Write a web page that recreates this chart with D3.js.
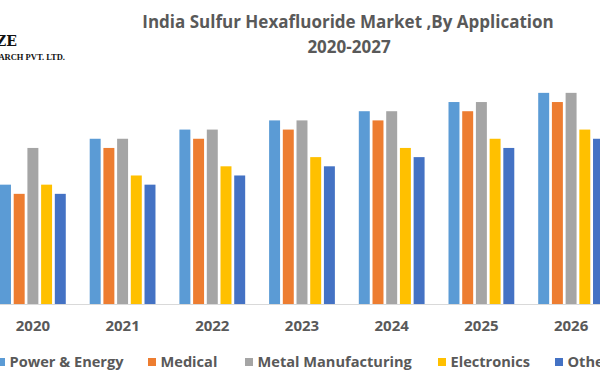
<!DOCTYPE html>
<html>
<head>
<meta charset="utf-8">
<script src="https://cdn.jsdelivr.net/npm/d3@7"></script>
<style>
  body { margin: 0; background: #fff; }
  svg { display: block; }
</style>
</head>
<body>
<div id="container"></div>
<script>
// chart data
const years = ["2020", "2021", "2022", "2023", "2024", "2025", "2026", "2027"];
const seriesNames = ["Power & Energy", "Medical", "Metal Manufacturing", "Electronics", "Others"];
const powerEnergy = [13, 18, 19, 20, 21, 22, 23, 24];
const medical = [12, 17, 18, 19, 20, 21, 22, 23];
const metalManufacturing = [17, 18, 19, 20, 21, 22, 23, 24];
const electronics = [13, 14, 15, 16, 17, 18, 19, 20];
const others = [12, 13, 14, 15, 16, 17, 18, 19];
const colors = ["#5B9BD5", "#ED7D31", "#A5A5A5", "#FFC000", "#4472C4"];

const allSeries = [powerEnergy, medical, metalManufacturing, electronics, others];

const width = 600;
const height = 380;
const baseline = 304;
const step = 89.7;
const fontFamily = "'Open Sans', 'Noto Sans', sans-serif";

const svg = d3.select("#container").append("svg")
    .attr("width", width)
    .attr("height", height);

// title
const title = svg.append("text")
    .attr("text-anchor", "middle")
    .attr("fill", "#595959")
    .style("font-family", fontFamily)
    .style("font-weight", "bold")
    .style("font-size", "17px");
title.append("tspan").attr("x", 348).attr("y", 28).text("India Sulfur Hexafluoride Market ,By Application");
title.append("tspan").attr("x", 349).attr("y", 53).text("2020-2027");

// logo, cut by the left edge
svg.append("text")
    .attr("x", 17).attr("y", 46)
    .attr("text-anchor", "end")
    .style("font-family", "'DejaVu Serif', 'Liberation Serif', serif")
    .style("font-weight", "bold")
    .style("font-size", "14px")
    .attr("fill", "#111")
    .text("MAXIMIZE");
svg.append("text")
    .attr("x", 65).attr("y", 60)
    .attr("text-anchor", "end")
    .style("font-family", "'Liberation Serif', serif")
    .style("font-weight", "bold")
    .style("font-size", "8.5px")
    .attr("fill", "#111")
    .text("MARKET RESEARCH PVT. LTD.");

// scales
const x0 = d3.scaleBand()
    .domain(years)
    .range([-0.1333 * step, -0.1333 * step + years.length * step])
    .paddingInner(0.2667)
    .paddingOuter(0.1333);

const x1 = d3.scaleBand()
    .domain(seriesNames)
    .range([0, x0.bandwidth()])
    .paddingInner(0.2);

const y = d3.scaleLinear()
    .domain([0, 24])
    .range([baseline, baseline - 24 * 9.18]);

// bars
const groups = svg.append("g")
    .selectAll("g")
    .data(years)
    .join("g")
    .attr("transform", d => `translate(${x0(d)},0)`);

groups.selectAll("rect")
    .data((yr, i) => seriesNames.map((name, j) => ({ name, value: allSeries[j][i], color: colors[j] })))
    .join("rect")
    .attr("x", d => x1(d.name))
    .attr("width", x1.bandwidth())
    .attr("y", d => y(d.value))
    .attr("height", d => baseline - y(d.value))
    .attr("fill", d => d.color);

// x axis
const xAxis = svg.append("g")
    .attr("transform", `translate(0,${baseline})`)
    .call(d3.axisBottom(x0).tickSize(0).tickPadding(16));
xAxis.select(".domain").attr("stroke", "#d9d9d9");
xAxis.selectAll("text")
    .attr("fill", "#595959")
    .style("font-family", fontFamily)
    .style("font-weight", "bold")
    .style("font-size", "15px");

// legend
const legendX = [-3, 148, 245, 438, 555];
const legend = svg.append("g")
    .selectAll("g")
    .data(seriesNames)
    .join("g")
    .attr("transform", (d, i) => `translate(${legendX[i]},362)`);

legend.append("rect")
    .attr("x", 0)
    .attr("y", -4)
    .attr("width", 8)
    .attr("height", 8)
    .attr("fill", (d, i) => colors[i]);

legend.append("text")
    .attr("x", 12.5)
    .attr("dy", "0.35em")
    .attr("fill", "#595959")
    .style("font-family", fontFamily)
    .style("font-weight", "bold")
    .style("font-size", "14.6px")
    .text(d => d);
</script>
</body>
</html>
